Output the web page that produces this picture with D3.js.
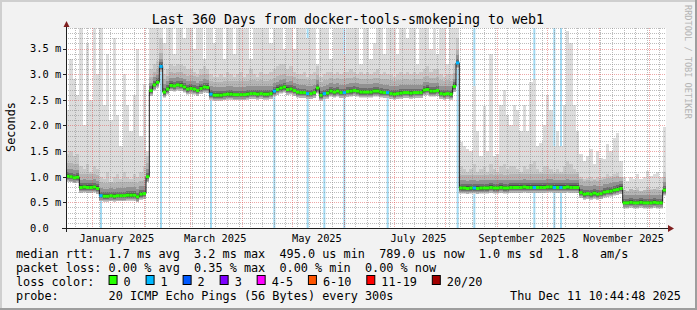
<!DOCTYPE html>
<html>
<head>
<meta charset="utf-8">
<script src="https://d3js.org/d3.v7.min.js"></script>
<style>
  body { margin: 0; background: #f2f2f2; }
  svg { display: block; }
  text { font-family: "DejaVu Sans Mono", monospace; fill: #000; }
</style>
</head>
<body>
<svg class="chart" width="697" height="310"></svg>
<script>
// ---- data: 180 bins of 2 days, values in ms ----
var startTime = new Date(2024, 11, 16, 10, 44, 48);
var endTime = new Date(2025, 11, 11, 10, 44, 48);
var binDays = 2;

// median rtt per bin
var median = [
  1.01, 1.00, 0.98, 0.99,                                   // 0-3
  0.79, 0.80, 0.79, 0.79, 0.80, 0.77,                       // 4-9
  0.63, 0.62, 0.62, 0.63, 0.62, 0.63, 0.63, 0.63, 0.64, 0.64, 0.64, 0.61, 0.66, 0.67, // 10-23
  1.00,                                                     // 24
  2.68, 2.79, 2.84, 3.15, 2.65, 2.71, 2.78, 2.77, 2.79, 2.78, 2.75, 2.71, 2.72, 2.71, 2.68, 2.72, 2.75, 2.74, 2.61, 2.59, // 25-44
  2.59, 2.59, 2.60, 2.61, 2.61, 2.60, 2.60, 2.60, 2.60, 2.61, 2.62, 2.62, 2.61, 2.62, 2.61, 2.61, // 45-60
  2.62, 2.67, 2.70, 2.73, 2.75, 2.70, 2.71, 2.68, 2.65, 2.64, 2.64, 2.62, 2.62, 2.64, 2.73, 2.59, 2.62, 2.63, 2.67, 2.65,
  2.67, 2.64, 2.64, 2.66, 2.67, 2.68, 2.67, 2.65, 2.65,     // 61-89
  2.65, 2.65, 2.67, 2.67, 2.65, 2.64, 2.64, 2.62, 2.61, 2.62, 2.63, 2.64, 2.64, 2.63, 2.64, 2.64, 2.64, 2.69, 2.70, 2.67,
  2.67, 2.68, 2.62, 2.61, 2.62, 2.61, 2.76, 3.22,           // 90-117
  0.78, 0.78, 0.77, 0.78, 0.78, 0.77, 0.78, 0.78, 0.78, 0.79, 0.78, 0.78, 0.79, 0.78, 0.78, 0.79, 0.79, 0.79, 0.79, 0.80,
  0.79, 0.79, 0.79, 0.79, 0.79, 0.79, 0.80, 0.80, 0.79, 0.79, 0.79, 0.79, 0.80, 0.79, 0.79, 0.79, // 118-153
  0.69, 0.66, 0.67, 0.66, 0.68, 0.66, 0.67, 0.70, 0.71, 0.72, 0.74, 0.75, 0.77, // 154-166
  0.49, 0.49, 0.50, 0.49, 0.49, 0.50, 0.49, 0.49, 0.49, 0.50, 0.49, 0.49, 0.74  // 167-179
];

// slowest ping per bin (top of the light smoke)
var pingMax = [
  2.3, 3.3, 2.9, 2.6, 3.9, 2.0, 3.6, 2.5, 3.9, 3.0, 3.9, 2.4, 3.4, 2.1, 3.7, 2.2, 1.6, 3.0, 2.4, 1.9, 2.6, 3.5, 1.8, 2.8, 1.5, // 0-24
  3.9, 3.9, 3.9, 3.9, 3.6, 3.9, 3.9, 3.4, 3.9, 3.9, 3.7, 3.9, 3.9, 3.5, 3.9, 3.9, 3.3, 3.9, 3.9, 3.6, // 25-44
  3.9, 3.9, 3.3, 3.9, 3.9, 3.4, 3.9, 3.9, 3.9, 3.9, 3.3, 3.9, 3.9, 3.9, 3.9, 3.9, 3.6, 3.9, 3.9, 3.9,
  3.5, 3.9, 3.9, 3.5, 3.9, 3.9, 3.9, 3.7, 3.9, 3.9, 3.2, 3.9, 3.9, 3.9, 3.3, 3.9, 3.9, 3.9, 3.4, 3.9,
  3.9, 3.9, 3.9, 3.2, 3.9,                                  // 45-89
  3.9, 3.3, 3.6, 3.9, 3.9, 3.4, 3.9, 3.9, 3.9, 3.4, 3.9, 3.9, 3.7, 3.9, 3.9, 3.2, 3.9, 3.9, 3.9, 3.5,
  3.9, 3.4, 3.9, 3.9, 3.2, 3.9, 3.9, 3.9,                   // 90-117
  1.68, 1.6, 1.55, 1.5, 2.76, 1.9, 1.4, 2.38, 1.5, 3.4, 1.4, 1.45, 2.4, 2.7, 2.2, 2.0, 2.4, 2.3, 1.9, 2.4,
  1.9, 2.85, 2.9, 1.6, 1.65, 2.0, 2.6, 2.3, 1.6, 1.9, 1.6, 2.4, 3.85, 3.6, 2.4, 1.9, // 118-153
  1.45, 1.3, 1.4, 1.55, 1.25, 1.5, 1.37, 1.34, 1.63, 1.5, 1.75, 1.85, 1.3,          // 154-166
  0.99, 0.92, 0.99, 0.95, 1.05, 0.96, 0.99, 1.12, 1.02, 1.05, 1.09, 1.0, 1.96       // 167-179
];

// 18th of 20 pings per bin (top of the darker smoke)
var ping18 = [
  1.45, 1.5, 1.4, 1.45, 1.2, 1.15, 1.25, 1.1, 1.2, 1.15, 1.0, 0.95, 1.1, 0.9, 1.0, 1.05, 0.95, 1.1, 1.0, 0.95,
  1.05, 1.0, 1.1, 1.2, 1.4,                                 // 0-24
  3.1, 3.2, 3.25, 3.7, 3.0, 3.1, 3.2, 3.15, 3.2, 3.2, 3.15, 3.1, 3.1, 3.05, 3.0, 3.1, 3.15, 3.1, 3.0, 2.95, // 25-44
  2.95, 3.0, 2.95, 3.05, 3.0, 2.95, 3.0, 3.05, 2.95, 3.0, 3.1, 3.0, 2.95, 3.05, 3.0, 3.0, 3.05, 3.1, 3.15, 3.2,
  3.2, 3.1, 3.15, 3.05, 3.0, 3.0, 3.05, 2.95, 3.0, 3.05, 3.15, 2.95, 3.0, 3.05, 3.05, 3.0, 3.05, 3.0, 3.05, 3.05,
  3.1, 3.05, 3.0, 3.05, 3.0,                                // 45-89
  3.05, 3.0, 3.05, 3.1, 3.0, 3.05, 3.0, 3.0, 2.95, 3.0, 3.05, 3.0, 3.05, 3.0, 3.05, 3.0, 3.05, 3.1, 3.15, 3.05,
  3.1, 3.1, 3.0, 2.95, 3.0, 3.0, 3.2, 3.7,                  // 90-117
  1.2, 1.15, 1.1, 1.15, 1.25, 1.1, 1.15, 1.2, 1.1, 1.25, 1.15, 1.1, 1.2, 1.25, 1.15, 1.2, 1.2, 1.15, 1.1, 1.2,
  1.15, 1.25, 1.3, 1.15, 1.1, 1.2, 1.2, 1.15, 1.1, 1.15, 1.1, 1.2, 1.3, 1.25, 1.15, 1.1, // 118-153
  1.0, 0.95, 0.98, 1.0, 0.95, 1.0, 0.98, 1.0, 1.05, 1.02, 1.05, 1.08, 1.0,          // 154-166
  0.75, 0.72, 0.76, 0.74, 0.78, 0.73, 0.75, 0.8, 0.76, 0.77, 0.79, 0.75, 1.1        // 167-179
];

// inner smoke bands, ms below / above the median
var innerBands = [
  {below: 0.10, above: 0.26, color: "#b4b4b4"},
  {below: 0.075, above: 0.15, color: "#929292"},
  {below: 0.05, above: 0.08, color: "#6e6e6e"},
  {below: 0.03, above: 0.04, color: "#4c4c4c"}
];

// bins where 1 of 20 pings was lost
var lossBins = [10, 28, 43, 62, 72, 77, 83, 96, 117, 122, 140, 146, 148];

var yTicks = [0, 0.5, 1.0, 1.5, 2.0, 2.5, 3.0, 3.5];
var yTickLabels = ["0.0", "0.5 m", "1.0 m", "1.5 m", "2.0 m", "2.5 m", "3.0 m", "3.5 m"];
var monthLabels = ["January 2025", "March 2025", "May 2025", "July 2025", "September 2025", "November 2025"];
var monthLabelDates = [new Date(2025, 0, 16), new Date(2025, 2, 16), new Date(2025, 4, 16),
                       new Date(2025, 6, 16), new Date(2025, 8, 16), new Date(2025, 10, 16)];

var lossColors = [
  {label: "0", color: "#26ff00"}, {label: "1", color: "#00b8ff"},
  {label: "2", color: "#0059ff"}, {label: "3", color: "#7e00ff"},
  {label: "4-5", color: "#ff00ff"}, {label: "6-10", color: "#ff5500"},
  {label: "11-19", color: "#ff0000"}, {label: "20/20", color: "#a10000"}
];
var legendLines = [
  "median rtt:  1.7 ms avg  3.2 ms max  495.0 us min  789.0 us now  1.0 ms sd  1.8   am/s",
  "packet loss: 0.00 % avg  0.35 % max  0.00 % min  0.00 % now",
  "loss color:",
  "probe:       20 ICMP Echo Pings (56 Bytes) every 300s"
];
var stampText = "Thu Dec 11 10:44:48 2025";
var titleText = "Last 360 Days from docker-tools-smokeping to web1";

// ---- layout ----
var W = 697, H = 310;
var plot = {left: 66, right: 666, top: 28, bottom: 228};
var cw = 7.12;  // legend char cell

var x = d3.scaleTime().domain([startTime, endTime]).range([plot.left, plot.right]);
var y = d3.scaleLinear().domain([0, 3.9]).range([plot.bottom, plot.top]);

var bins = median.map(function(m, i) {
  return {
    i: i,
    t0: d3.timeDay.offset(startTime, i * binDays),
    t1: d3.timeDay.offset(startTime, (i + 1) * binDays),
    med: m,
    max: pingMax[i],
    p18: ping18[i],
    loss: lossBins.indexOf(i) >= 0 ? 1 : 0
  };
});

var svg = d3.select(".chart");

// background and 3d frame
svg.append("rect").attr("width", W).attr("height", H).attr("fill", "#f2f2f2");
svg.append("path").attr("d", "M0,0H" + W + "V2H2V" + H + "H0Z").attr("fill", "#cfcfcf");
svg.append("path").attr("d", "M" + W + ",0V" + H + "H0V" + (H - 2) + "H" + (W - 2) + "V0Z").attr("fill", "#9e9e9e");

// canvas
svg.append("rect")
  .attr("x", plot.left).attr("y", plot.top)
  .attr("width", plot.right - plot.left).attr("height", plot.bottom - plot.top)
  .attr("fill", "#fff");

var g = svg.append("g");

// loss background stripes
g.selectAll(".lossbar").data(bins.filter(function(d) { return d.loss > 0; })).enter()
  .append("rect")
    .attr("x", function(d) { return (x(d.t0) + x(d.t1)) / 2 - 1; })
    .attr("y", plot.top)
    .attr("width", 2)
    .attr("height", plot.bottom - plot.top)
    .attr("fill", "#a2daf3");

// smoke
var smoke = g.append("g");
function band(lo, hi, color) {
  smoke.selectAll(null).data(bins).enter()
    .append("rect")
      .attr("x", function(d) { return x(d.t0); })
      .attr("width", function(d) { return x(d.t1) - x(d.t0); })
      .attr("y", function(d) { return y(Math.min(hi(d), 3.9)); })
      .attr("height", function(d) { return Math.max(0, y(lo(d)) - y(Math.min(hi(d), 3.9))); })
      .attr("fill", color)
      .attr("shape-rendering", "crispEdges");
}
band(function(d) { return d.med - 0.11; }, function(d) { return d.max; }, "#dcdcdc");
band(function(d) { return d.med - 0.105; }, function(d) { return d.p18; }, "#c8c8c8");
innerBands.forEach(function(b) {
  band(function(d) { return d.med - b.below; },
       function(d) { return Math.min(d.p18, d.med + b.above); }, b.color);
});

// grid (drawn over the graph)
var grid = svg.append("g").attr("stroke-dasharray", "1,1").attr("shape-rendering", "crispEdges");
var minorY = y.ticks(39).filter(function(v) { return v > 0 && yTicks.indexOf(Math.round(v * 10) / 10) < 0; });
grid.selectAll(".hmin").data(minorY).enter().append("line")
  .attr("x1", plot.left).attr("x2", plot.right)
  .attr("y1", function(v) { return Math.round(y(v)) + 0.5; })
  .attr("y2", function(v) { return Math.round(y(v)) + 0.5; })
  .attr("stroke", "rgba(143,143,143,0.6)");
var months = d3.timeMonth.range(startTime, endTime);
var weeks = d3.timeSunday.range(startTime, endTime);
grid.selectAll(".vmin").data(weeks).enter().append("line")
  .attr("x1", function(d) { return Math.round(x(d)) + 0.5; })
  .attr("x2", function(d) { return Math.round(x(d)) + 0.5; })
  .attr("y1", plot.top).attr("y2", plot.bottom)
  .attr("stroke", "rgba(143,143,143,0.6)");
grid.selectAll(".hmaj").data(yTicks.slice(1)).enter().append("line")
  .attr("x1", plot.left).attr("x2", plot.right)
  .attr("y1", function(v) { return Math.round(y(v)) + 0.5; })
  .attr("y2", function(v) { return Math.round(y(v)) + 0.5; })
  .attr("stroke", "rgba(222,79,79,0.5)");
grid.selectAll(".vmaj").data(months).enter().append("line")
  .attr("x1", function(d) { return Math.round(x(d)) + 0.5; })
  .attr("x2", function(d) { return Math.round(x(d)) + 0.5; })
  .attr("y1", plot.top).attr("y2", plot.bottom)
  .attr("stroke", "rgba(222,79,79,0.5)");

// median: thin dark step line, then a coloured 3px marker per bin
var medPts = bins.map(function(d) { return [x(d.t0), y(d.med)]; });
medPts.push([x(endTime), y(median[median.length - 1])]);
svg.append("path")
  .attr("d", d3.line().curve(d3.curveStepAfter)(medPts))
  .attr("fill", "none")
  .attr("stroke", "#1f1f1f")
  .attr("stroke-width", 1);
svg.selectAll(".medbar").data(bins).enter()
  .append("rect")
    .attr("x", function(d) { return x(d.t0); })
    .attr("width", function(d) { return x(d.t1) - x(d.t0); })
    .attr("y", function(d) { return y(d.med) - 1.5; })
    .attr("height", 3)
    .attr("fill", function(d) { return lossColors[d.loss].color; });

// axes
var axis = svg.append("g").attr("shape-rendering", "crispEdges");
axis.append("line").attr("x1", plot.left - 4).attr("x2", plot.right + 4)
  .attr("y1", plot.bottom + 0.5).attr("y2", plot.bottom + 0.5).attr("stroke", "#1f1f1f");
axis.append("line").attr("x1", plot.left + 0.5).attr("x2", plot.left + 0.5)
  .attr("y1", plot.bottom + 4).attr("y2", plot.top - 4).attr("stroke", "#1f1f1f");
axis.selectAll(".ytick").data(yTicks).enter().append("line")
  .attr("x1", plot.left - 3).attr("x2", plot.left)
  .attr("y1", function(v) { return Math.round(y(v)) + 0.5; })
  .attr("y2", function(v) { return Math.round(y(v)) + 0.5; })
  .attr("stroke", "#1f1f1f");
svg.append("path")
  .attr("d", "M" + (plot.right + 2) + "," + (plot.bottom - 3) + "L" + (plot.right + 8) + "," + (plot.bottom + 0.5) +
             "L" + (plot.right + 2) + "," + (plot.bottom + 4) + "Z")
  .attr("fill", "#801f1f");
svg.append("path")
  .attr("d", "M" + (plot.left - 2.5) + "," + (plot.top - 1) + "L" + (plot.left + 0.5) + "," + (plot.top - 7) +
             "L" + (plot.left + 3.5) + "," + (plot.top - 1) + "Z")
  .attr("fill", "#801f1f");

// tick labels
svg.selectAll(".ylab").data(yTicks).enter().append("text")
  .attr("x", 30)
  .attr("y", function(v) { return y(v) + 3.8; })
  .attr("font-size", "10.35px")
  .style("white-space", "pre")
  .text(function(v, i) { return yTickLabels[i]; });
svg.selectAll(".xlab").data(monthLabelDates).enter().append("text")
  .attr("x", function(d) { return x(d); })
  .attr("y", 241.5)
  .attr("text-anchor", "middle")
  .attr("font-size", "10.35px")
  .text(function(d, i) { return monthLabels[i]; });

// title, unit, watermark
svg.append("text").attr("x", 348).attr("y", 24).attr("text-anchor", "middle")
  .attr("font-size", "13.3px").text(titleText);
svg.append("text").attr("transform", "translate(15,127) rotate(-90)").attr("text-anchor", "middle")
  .attr("font-size", "11.83px").text("Seconds");
svg.append("text").attr("transform", "translate(684.5,5) rotate(90)")
  .attr("font-size", "8.6px").style("fill", "#b4b4b4").text("RRDTOOL / TOBI OETIKER");

// legend
svg.selectAll(".leg").data(legendLines).enter().append("text")
  .attr("x", 16)
  .attr("y", function(d, i) { return 258 + i * 14; })
  .attr("font-size", "11.83px")
  .style("white-space", "pre")
  .text(function(d) { return d; });
svg.append("text").attr("x", 681).attr("y", 300).attr("text-anchor", "end")
  .attr("font-size", "11.83px").text(stampText);

var col = 13;
lossColors.forEach(function(c) {
  var bx = 16 + col * cw;
  svg.append("rect").attr("x", bx + 0.5).attr("y", 275.5).attr("width", 8).attr("height", 9)
    .attr("fill", c.color).attr("stroke", "#000").attr("stroke-width", 1);
  svg.append("text").attr("x", bx + 15).attr("y", 286).attr("font-size", "11.83px").text(c.label);
  col += c.label.length + 4.2;
});
</script>
</body>
</html>
